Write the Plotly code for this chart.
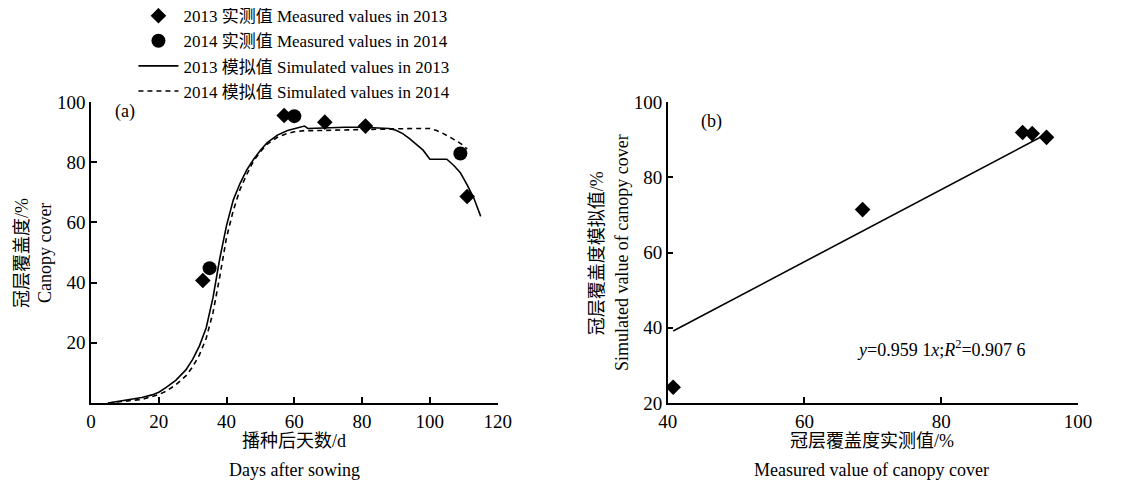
import plotly.graph_objects as go

# ---- data ----
days_2013_meas = [33, 57, 69, 81, 111]
cover_2013_meas = [40.7, 95.5, 93.3, 92.0, 68.6]
days_2014_meas = [35, 60, 109]
cover_2014_meas = [44.8, 95.3, 82.9]

days_2013_sim = [5, 8, 10, 12, 15, 18, 20, 22, 25, 28, 30, 32, 34, 36, 38, 40, 42, 44, 46, 48,
                 50, 52, 55, 58, 60, 63, 64, 66, 70, 75, 80, 85, 88, 90, 92, 94, 96, 98, 100,
                 102, 105, 107, 109, 111, 113, 115]
cover_2013_sim = [0, 0.5, 0.8, 1.1, 1.8, 2.7, 3.6, 5.0, 7.5, 11, 14.5, 19, 25, 35, 48, 59, 67.5,
                  73, 77.5, 81, 84, 86.5, 89, 90.5, 91.2, 92, 91.2, 91.3, 91.5, 91.6, 91.6, 91.5,
                  91.2, 90.6, 89.5, 87.8, 86, 84, 81, 81, 81, 79, 76.5, 72.5, 68, 62]

days_2014_sim = [5, 10, 15, 20, 22, 25, 28, 30, 32, 34, 36, 38, 40, 42, 44, 46, 48, 50, 52, 55,
                 58, 60, 63, 66, 70, 75, 80, 85, 90, 95, 100, 102, 104, 106, 108, 110, 111]
cover_2014_sim = [0, 0.5, 1.2, 2.8, 3.8, 6, 9, 12, 16, 21.5, 30, 42, 55, 64, 71, 76, 80.5, 83.5,
                  86, 88.3, 89.6, 90.1, 90.5, 90.5, 90.6, 90.8, 91, 91, 91.2, 91.2, 91.2, 90.5,
                  89.5, 88.3, 87, 85.5, 84.3]

measured_b = [40.8, 68.5, 91.9, 93.3, 95.4]
simulated_b = [24.2, 71.4, 91.9, 91.6, 90.6]
slope = 0.9591
r2 = 0.9076

x_ticks_a = [0, 20, 40, 60, 80, 100, 120]
y_ticks_a = [20, 40, 60, 80, 100]
x_ticks_b = [40, 60, 80, 100]
y_ticks_b = [20, 40, 60, 80, 100]

FONT = "Liberation Serif, Noto Sans CJK SC, serif"

fig = go.Figure()

fig.add_trace(go.Scatter(x=days_2013_meas, y=cover_2013_meas, mode="markers",
                         marker=dict(symbol="diamond", size=12, color="black"),
                         name="2013 实测值 Measured values in 2013", xaxis="x", yaxis="y"))
fig.add_trace(go.Scatter(x=days_2014_meas, y=cover_2014_meas, mode="markers",
                         marker=dict(symbol="circle", size=14, color="black"),
                         name="2014 实测值 Measured values in 2014", xaxis="x", yaxis="y"))
fig.add_trace(go.Scatter(x=days_2013_sim, y=cover_2013_sim, mode="lines",
                         line=dict(color="black", width=1.6),
                         name="2013 模拟值 Simulated values in 2013", xaxis="x", yaxis="y"))
fig.add_trace(go.Scatter(x=days_2014_sim, y=cover_2014_sim, mode="lines",
                         line=dict(color="black", width=1.6, dash="5px,4px"),
                         name="2014 模拟值 Simulated values in 2014", xaxis="x", yaxis="y"))

# panel b
x_line = [min(measured_b), max(measured_b)]
y_line = [slope * v for v in x_line]
fig.add_trace(go.Scatter(x=x_line, y=y_line, mode="lines", line=dict(color="black", width=1.6),
                         showlegend=False, xaxis="x2", yaxis="y2"))
fig.add_trace(go.Scatter(x=measured_b, y=simulated_b, mode="markers",
                         marker=dict(symbol="diamond", size=12, color="black"),
                         showlegend=False, xaxis="x2", yaxis="y2"))

axis_common = dict(showline=True, linecolor="black", linewidth=1.5, ticks="inside",
                   ticklen=6, tickwidth=1.5, tickcolor="black", showgrid=False,
                   zeroline=False, mirror=False,
                   tickfont=dict(family=FONT, size=19, color="black"))

# page body has an 8px default margin; size the figure to fit the 1148x481 window
fig.update_layout(
    width=1140, height=473,
    margin=dict(l=83, r=70, t=94, b=78, autoexpand=False),
    paper_bgcolor="white", plot_bgcolor="white",
    font=dict(family=FONT, color="black", size=17),
    xaxis=dict(domain=[0, 0.412], range=[0, 120], tickvals=x_ticks_a, anchor="y", **axis_common),
    yaxis=dict(domain=[0, 1], range=[0, 100], tickvals=y_ticks_a, anchor="x", **axis_common),
    xaxis2=dict(domain=[0.5843, 1], range=[40, 100], tickvals=x_ticks_b, anchor="y2", **axis_common),
    yaxis2=dict(domain=[0, 1], range=[20, 100], tickvals=y_ticks_b, anchor="x2", **axis_common),
    legend=dict(x=0.043, y=1.345, xanchor="left", yanchor="top", bgcolor="rgba(0,0,0,0)",
                font=dict(family=FONT, size=17, color="black"), tracegroupgap=0,
                itemwidth=40),
    showlegend=True,
)

ann = []
def A(text, x, y, size=18, angle=0, xanchor="center"):
    ann.append(dict(text=text, x=x, y=y, xref="paper", yref="paper", showarrow=False,
                    textangle=angle, xanchor=xanchor, yanchor="middle",
                    font=dict(family=FONT, size=size, color="black")))

A("播种后天数/d", 0.2057, -0.126)
A("Days after sowing", 0.2057, -0.224)
A("冠层覆盖度实测值/%", 0.791, -0.126)
A("Measured value of canopy cover", 0.791, -0.224)
A("冠层覆盖度/%", -0.0699, 0.498, angle=-90)
A("Canopy cover", -0.0466, 0.498, angle=-90)
A("冠层覆盖度模拟值/%", 0.5127, 0.498, angle=-90)
A("Simulated value of canopy cover", 0.538, 0.498, angle=-90)
A("(a)", 0.0345, 0.967, size=18)
A("(b)", 0.629, 0.934, size=18)
A("<i>y</i>=0.959 1<i>x</i>;<i>R</i><sup>2</sup>=0.907 6", 0.7740, 0.18, size=18, xanchor="left")
fig.update_layout(annotations=ann)

fig.write_html("out.html")
